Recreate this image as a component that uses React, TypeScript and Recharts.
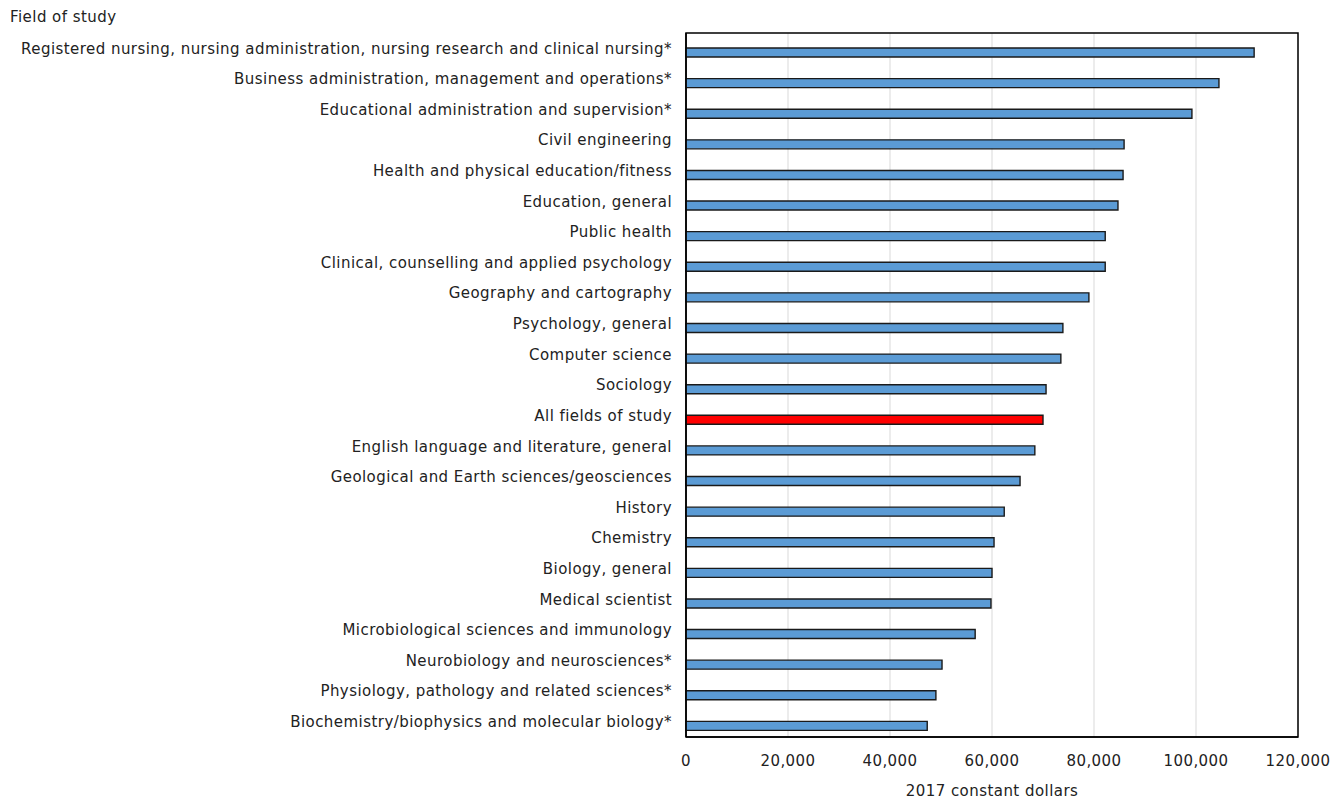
import React from 'react';
import { BarChart, Bar, XAxis, YAxis, CartesianGrid, Cell, ReferenceArea, Rectangle } from 'recharts';

const categories = [
  'Registered nursing, nursing administration, nursing research and clinical nursing*',
  'Business administration, management and operations*',
  'Educational administration and supervision*',
  'Civil engineering',
  'Health and physical education/fitness',
  'Education, general',
  'Public health',
  'Clinical, counselling and applied psychology',
  'Geography and cartography',
  'Psychology, general',
  'Computer science',
  'Sociology',
  'All fields of study',
  'English language and literature, general',
  'Geological and Earth sciences/geosciences',
  'History',
  'Chemistry',
  'Biology, general',
  'Medical scientist',
  'Microbiological sciences and immunology',
  'Neurobiology and neurosciences*',
  'Physiology, pathology and related sciences*',
  'Biochemistry/biophysics and molecular biology*',
];

const values = [
  111400, 104500, 99200, 85900, 85700, 84700, 82200, 82200, 79000, 73900, 73500, 70600,
  70000, 68400, 65500, 62400, 60400, 60000, 59800, 56700, 50200, 49000, 47300,
];

const xTicks = [0, 20000, 40000, 60000, 80000, 100000, 120000];

const highlight = 'All fields of study';

const data = categories.map((c, i) => ({ field: c, value: values[i] }));

const FONT = '"DejaVu Sans", Verdana, sans-serif';
const TEXT = '#222222';
const FS = 15;
const LS = 0.45;
const BAR_SHIFT = 4;

const fmt = (v: number) => v.toLocaleString('en-US');

const ShiftedBar = (props: any) => <Rectangle {...props} y={props.y + BAR_SHIFT} />;

export default function App() {
  return (
    <div style={{ position: 'absolute', left: 0, top: 0, width: 1341, height: 799, background: '#fff', fontFamily: FONT }}>
      <div style={{ position: 'absolute', left: 10, top: 8, fontSize: FS, letterSpacing: LS, color: TEXT, fontFamily: FONT, lineHeight: '18px' }}>Field of study</div>
      <BarChart
        width={1341}
        height={799}
        data={data}
        layout="vertical"
        margin={{ top: 33, right: 43, bottom: 32, left: 0 }}
        barCategoryGap={0}
      >
        <CartesianGrid horizontal={false} vertical={true} stroke="#d9d9d9" />
        <XAxis
          type="number"
          domain={[0, 120000]}
          ticks={xTicks}
          tickFormatter={fmt}
          tickLine={false}
          axisLine={{ stroke: '#000', strokeWidth: 1.5 }}
          tick={{ fill: TEXT, fontSize: FS, fontFamily: FONT, letterSpacing: LS }}
          tickMargin={12}
          height={30}
          interval={0}
          label={{ value: '2017 constant dollars', position: 'insideBottom', offset: -29, fill: TEXT, fontSize: FS, fontFamily: FONT, letterSpacing: LS }}
        />
        <YAxis
          type="category"
          dataKey="field"
          width={686}
          tickLine={false}
          axisLine={{ stroke: '#000', strokeWidth: 1.5 }}
          tick={{ fill: TEXT, fontSize: FS, fontFamily: FONT, letterSpacing: LS }}
          tickMargin={8}
          interval={0}
        />
        <ReferenceArea x1={0} x2={120000} fill="none" stroke="#000" strokeWidth={1.5} ifOverflow="visible" />
        <Bar dataKey="value" barSize={9} stroke="#1a1a1a" strokeWidth={1.4} isAnimationActive={false} shape={ShiftedBar}>
          {data.map((d) => (
            <Cell key={d.field} fill={d.field === highlight ? '#ff0000' : '#5b9bd5'} />
          ))}
        </Bar>
      </BarChart>
    </div>
  );
}
